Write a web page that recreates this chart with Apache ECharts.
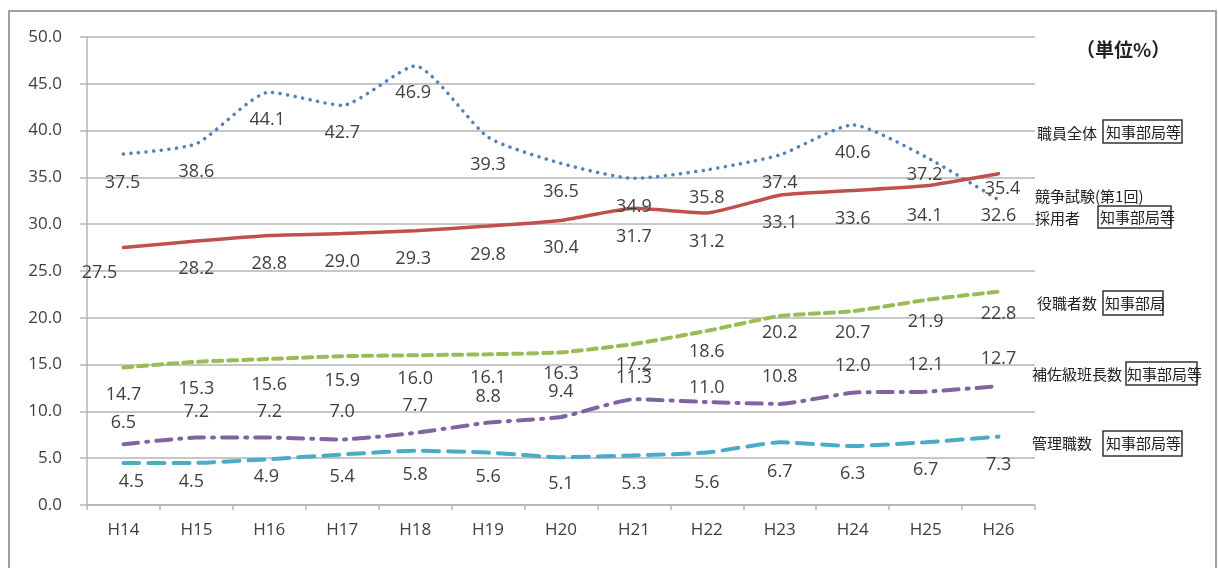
<!DOCTYPE html>
<html>
<head>
<meta charset="utf-8">
<script src="https://cdn.jsdelivr.net/npm/echarts@6/dist/echarts.min.js"></script>
<style>
html,body{margin:0;padding:0;background:#fff;}
#chart{width:1218px;height:568px;}
</style>
</head>
<body>
<div id="chart"></div>
<script>
// ---- data ----
var categories = ['H14','H15','H16','H17','H18','H19','H20','H21','H22','H23','H24','H25','H26'];
var seriesNames = ['職員全体','競争試験(第1回)採用者','役職者数','補佐級班長数','管理職数'];
var staffAll     = [37.5, 38.6, 44.1, 42.7, 46.9, 39.3, 36.5, 34.9, 35.8, 37.4, 40.6, 37.2, 32.6];
var examHires    = [27.5, 28.2, 28.8, 29.0, 29.3, 29.8, 30.4, 31.7, 31.2, 33.1, 33.6, 34.1, 35.4];
var officials    = [14.7, 15.3, 15.6, 15.9, 16.0, 16.1, 16.3, 17.2, 18.6, 20.2, 20.7, 21.9, 22.8];
var assistants   = [6.5, 7.2, 7.2, 7.0, 7.7, 8.8, 9.4, 11.3, 11.0, 10.8, 12.0, 12.1, 12.7];
var managers     = [4.5, 4.5, 4.9, 5.4, 5.8, 5.6, 5.1, 5.3, 5.6, 6.7, 6.3, 6.7, 7.3];
var yTicks = [0, 50, 5];
var unitText = '（単位%）';
var boxText = ['知事部局等','知事部局等','知事部局','知事部局等','知事部局等'];

// ---- label placement (pixels, relative to point) ----
var offStaff = [[-1,29],[0,28],[-2,28],[0,28],[-2,27],[0,28],[0,29],[0,29],[0,28],[0,28],[0,28],[-1,18],[0,16]];
var offExam  = [[-24,25],[0,28],[0,28],[0,28],[-2,28],[0,29],[0,27],[0,29],[0,29],[0,28],[0,28],[-1,30],[4,15]];
var offOff   = [[0,27],[0,27],[0,26],[0,25],[0,24],[0,24],[0,21],[0,21],[0,21],[0,17],[0,22],[0,22],[0,22]];
var offAsst  = [[0,-21],[0,-26],[0,-26],[0,-28],[0,-27],[0,-26],[0,-25],[0,-21],[0,-14],[0,-27],[0,-27],[0,-27],[0,-27]];
var offMgr   = [[8,19],[-5,19],[-3,18],[0,22],[0,24],[0,24],[0,27],[0,28],[0,30],[0,30],[0,28],[0,28],[0,28]];

function items(vals, offs){
  return vals.map(function(v,i){
    return {value:v, label:{offset:offs[i]}};
  });
}
var labelBase = {
  show:true, position:'inside', color:'#404040', fontSize:18,
  fontFamily:'"Open Sans", sans-serif',
  formatter:function(p){return p.value.toFixed(1);}
};
function mk(name, vals, offs, color, width, type, sm){
  return {
    name:name, type:'line', data:items(vals, offs), smooth:sm,
    symbol:'circle', symbolSize:0, showSymbol:true,
    itemStyle:{color:color},
    lineStyle:{color:color, width:width, type:type, cap:'round'},
    label:labelBase, emphasis:{disabled:true}, animation:false, z:3
  };
}

var chart = echarts.init(document.getElementById('chart'));
var axisGray = '#b4b4b4';
var txt = function(x,y,t,opts){
  return Object.assign({type:'text', x:x, y:y, style:Object.assign({text:t, fill:'#222', fontSize:15,
    fontFamily:'"Noto Sans CJK JP", sans-serif', textVerticalAlign:'middle'}, opts||{})});
};
var box = function(x,y,w,h){
  return {type:'rect', shape:{x:x,y:y,width:w,height:h}, style:{fill:'#fff', stroke:'#333', lineWidth:1.5}};
};

chart.setOption({
  animation:false,
  backgroundColor:'#fff',
  grid:{left:87, right:183, top:37, bottom:63, containLabel:false},
  xAxis:{
    type:'category', data:categories, boundaryGap:true,
    axisLine:{lineStyle:{color:axisGray, width:1.5}},
    axisTick:{show:true, length:5, alignWithLabel:false, lineStyle:{color:axisGray, width:1.5}},
    axisLabel:{color:'#404040', fontSize:17, margin:17, fontFamily:'"Open Sans", sans-serif'}
  },
  yAxis:{
    type:'value', min:yTicks[0], max:yTicks[1], interval:yTicks[2],
    axisLine:{show:true, lineStyle:{color:axisGray, width:1.5}},
    axisTick:{show:true, length:7, lineStyle:{color:axisGray, width:1.5}},
    axisLabel:{color:'#404040', fontSize:17, margin:25, fontFamily:'"Open Sans", sans-serif',
      formatter:function(v){return v.toFixed(1);}},
    splitLine:{show:true, lineStyle:{color:axisGray, width:1.5}}
  },
  series:[
    mk(seriesNames[0], staffAll, offStaff, '#4f81bd', 3.5, [0.1,7.5], 0.2),
    mk(seriesNames[1], examHires, offExam, '#c0504d', 3.5, 'solid', 0.15),
    mk(seriesNames[2], officials, offOff, '#9bbb59', 4, [9,6], 0.15),
    mk(seriesNames[3], assistants, offAsst, '#8064a2', 4, [15,8,2,8], 0.15),
    mk(seriesNames[4], managers, offMgr, '#4bacc6', 4, [16,9], 0.15)
  ],
  graphic:[
    {type:'rect', shape:{x:9, y:11, width:1207, height:570}, style:{fill:'none', stroke:'#a0a0a0', lineWidth:2}, z:-1, silent:true},
    txt(1076, 50, unitText, {fontSize:19, fontWeight:'bold', fill:'#222'}),
    txt(1037, 133, '職員全体'),
    box(1103, 120, 79, 23), txt(1106, 132, boxText[0]),
    txt(1035, 196, '競争試験(第1回)'),
    txt(1035, 218, '採用者'),
    box(1098, 206, 73, 22), txt(1100, 217, boxText[1]),
    txt(1037, 303, '役職者数'),
    box(1103, 291, 60, 24), txt(1105, 303, boxText[2]),
    txt(1032, 374, '補佐級班長数'),
    box(1126, 362, 71, 23), txt(1127, 374, boxText[3]),
    txt(1032, 443, '管理職数'),
    box(1103, 431, 79, 25), txt(1106, 443, boxText[4])
  ]
});
</script>
</body>
</html>
